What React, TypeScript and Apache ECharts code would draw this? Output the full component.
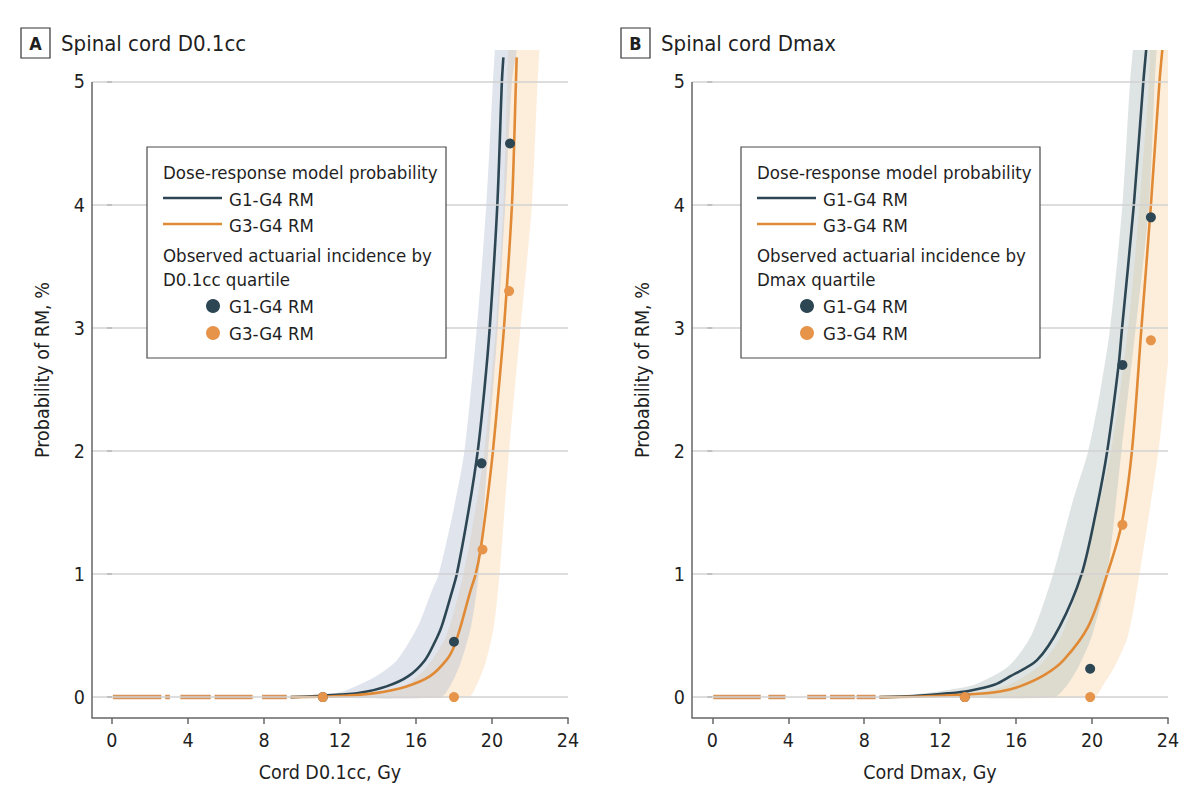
import React, { useEffect, useRef } from "react";
import * as echarts from "echarts";

const FONT = '"Liberation Sans Narrow", "DejaVu Sans Condensed", "Open Sans", sans-serif';
const DARK = "#2d4654";
const ORANGE = "#e08a36";
const TEXT = "#1f1f1f";

const xTicks = [0, 4, 8, 12, 16, 20, 24];
const yTicks = [0, 1, 2, 3, 4, 5];
const Y_MIN = -0.17;
const Y_MAX = 5.26;
const Y_AXIS_TOP = 5;

// ---------- Panel A: Spinal cord D0.1cc ----------
const aPatientDoses: (number | string)[][] = [
  [0.05, 0], [2.6, 0], ["-", "-"], [2.8, 0], [3.05, 0], ["-", "-"], [3.6, 0], [5.2, 0], ["-", "-"],
  [5.4, 0], [7.4, 0], ["-", "-"], [7.9, 0], [9.2, 0],
];
const aG14Curve = [
  [9.4, 0], [11, 0.01], [12, 0.02], [12.9, 0.03], [14.45, 0.087], [15.6, 0.17], [16.47, 0.3],
  [17.0, 0.45], [17.35, 0.575], [17.88, 0.85], [18.15, 1.0], [18.75, 1.5], [19.25, 2.0],
  [19.6, 2.5], [19.88, 3.0], [20.28, 4.0], [20.52, 5.0], [20.6, 5.2],
];
const aG34Curve = [
  [9.4, 0], [11, 0.003], [12.2, 0.01], [13.75, 0.03], [15.5, 0.087], [16.74, 0.17], [17.6, 0.3],
  [18.0, 0.41], [18.35, 0.575], [18.84, 0.85], [19.14, 1.0], [19.4, 1.2], [19.75, 1.6],
  [20.05, 2.0], [20.35, 2.5], [20.63, 3.0], [21.05, 4.0], [21.26, 5.0], [21.3, 5.2],
];
const aG14Band = [
  [9.5, 0], [11.5, 0.02], [12.4, 0.06], [13.9, 0.17], [15.0, 0.3], [16.1, 0.575], [16.8, 0.85],
  [17.2, 1.0], [17.95, 1.5], [18.55, 2.0], [19.2, 3.0], [19.7, 4.0], [20.05, 5.0], [20.15, 5.26], [20.22, 5.45],
  [21.4, 5.45], [21.3, 5.26], [21.05, 5.0], [20.7, 4.0], [20.3, 3.0], [19.8, 2.0], [19.3, 1.0], [18.9, 0.575],
  [18.4, 0.3], [17.9, 0.12], [17.3, 0],
];
const aG34Band = [
  [10, 0], [12.5, 0.005], [13.8, 0.02], [15.5, 0.1], [16.6, 0.25], [17.6, 0.5], [18.5, 1.0],
  [19.1, 1.5], [19.6, 2.0], [20.2, 3.0], [20.6, 4.0], [20.8, 5.0], [20.85, 5.26], [20.9, 5.45],
  [22.6, 5.45], [22.5, 5.26], [22.4, 5.0], [22.1, 4.0], [21.5, 3.0], [20.9, 2.0], [20.4, 1.0], [20.1, 0.575],
  [19.7, 0.3], [19.2, 0.1], [18.75, 0],
];
const aG14Observed = [[11.1, 0], [18.0, 0.45], [19.45, 1.9], [20.95, 4.5]];
const aG34Observed = [[11.1, 0], [18.0, 0], [19.5, 1.2], [20.9, 3.3]];

// ---------- Panel B: Spinal cord Dmax ----------
const bPatientDoses: (number | string)[][] = [
  [0.05, 0], [2.55, 0], ["-", "-"], [2.95, 0], [3.85, 0], ["-", "-"], [5.0, 0], [6.0, 0], ["-", "-"],
  [6.2, 0], [7.5, 0], ["-", "-"], [7.6, 0], [8.6, 0],
];
const bG14Curve = [
  [8.8, 0], [10.6, 0.008], [12.4, 0.03], [13.5, 0.05], [14.85, 0.1], [15.7, 0.17], [17.1, 0.3],
  [18.3, 0.575], [19.45, 1.0], [20.2, 1.5], [20.8, 2.0], [21.4, 2.7], [21.58, 3.0],
  [22.2, 4.0], [22.7, 5.0], [22.85, 5.26],
];
const bG34Curve = [
  [8.8, 0], [11, 0.005], [13.8, 0.025], [15.15, 0.046], [16.2, 0.087], [17.5, 0.18], [18.5, 0.3],
  [19.8, 0.575], [20.8, 1.0], [21.55, 1.4], [22.1, 2.0], [22.6, 3.0], [23.1, 4.0], [23.55, 5.0],
  [23.7, 5.26],
];
const bG14Band = [
  [9.5, 0], [10.6, 0.02], [12.5, 0.06], [13.8, 0.1], [15.6, 0.25], [16.8, 0.5], [17.95, 1.0],
  [19.0, 1.6], [19.8, 2.0], [20.45, 2.5], [20.95, 3.0], [21.6, 4.0], [22.0, 5.0], [22.15, 5.26], [22.25, 5.45],
  [23.5, 5.45], [23.4, 5.26], [23.3, 5.0], [23.0, 4.0], [22.3, 3.0], [21.55, 2.0], [20.8, 1.0], [20.0, 0.5],
  [19.3, 0.25], [18.7, 0.1], [18.0, 0],
];
const bG34Band = [
  [11, 0], [13.5, 0.02], [15.6, 0.1], [17.2, 0.25], [18.4, 0.5], [19.45, 1.0], [21.0, 2.0],
  [21.9, 3.0], [22.5, 4.0], [23.0, 5.0], [23.05, 5.26], [23.1, 5.45],
  [24.7, 5.45], [24.6, 4.0], [24.3, 3.2], [23.85, 2.5], [23.5, 2.0], [22.5, 1.0], [21.9, 0.5], [21.2, 0.25],
  [20.6, 0.1], [20.1, 0],
];
const bG14Observed = [[13.3, 0], [19.9, 0.23], [21.6, 2.7], [23.1, 3.9]];
const bG34Observed = [[13.3, 0], [19.9, 0], [21.6, 1.4], [23.1, 2.9]];

const panelTitles = ["Spinal cord D0.1cc", "Spinal cord Dmax"];
const panelLetters = ["A", "B"];
const xNames = ["Cord D0.1cc, Gy", "Cord Dmax, Gy"];
const yName = "Probability of RM, %";
const quartileLabels = ["D0.1cc quartile", "Dmax quartile"];
const xMins = [-1.05, -1.07];

function bandSeries(idx: number, pts: number[][], fill: string) {
  return {
    type: "custom",
    xAxisIndex: idx,
    yAxisIndex: idx,
    silent: true,
    clip: true,
    z: 2,
    data: pts,
    encode: { x: 0, y: 1 },
    renderItem: (params: any, api: any) => {
      if (params.dataIndex !== 0) return null;
      const points = pts.map((p) => api.coord(p));
      return { type: "polygon", shape: { points, smooth: 0.25 }, style: { fill } };
    },
  };
}

function lineSeries(idx: number, data: any[], color: string, width: number, z: number, smooth: number) {
  return {
    type: "line",
    xAxisIndex: idx,
    yAxisIndex: idx,
    data,
    clip: true,
    showSymbol: false,
    symbol: "none",
    smooth,
    connectNulls: false,
    silent: true,
    z,
    lineStyle: { color, width },
  };
}

function dotSeries(idx: number, data: number[][], color: string, z: number) {
  return {
    type: "scatter",
    xAxisIndex: idx,
    yAxisIndex: idx,
    data,
    symbol: "circle",
    symbolSize: 10,
    clip: false,
    silent: true,
    z,
    itemStyle: { color, opacity: 1 },
  };
}

function gridLineSeries(idx: number) {
  const xMin = xMins[idx];
  return {
    type: "line",
    xAxisIndex: idx,
    yAxisIndex: idx,
    data: [],
    silent: true,
    clip: false,
    z: 1,
    markLine: {
      silent: true,
      symbol: ["none", "none"],
      label: { show: false },
      lineStyle: { color: "#d2d2d2", width: 1.5, type: "solid" },
      data: [
        ...yTicks.map((v) => ({ yAxis: v })),
        [
          { coord: [xMin, Y_MIN], lineStyle: { color: "#666666", width: 1.5 } },
          { coord: [xMin, Y_AXIS_TOP] },
        ],
      ],
    },
  };
}

function legendGraphics(dx: number, quartile: string) {
  const t = (x: number, y: number, text: string) => ({
    type: "text",
    x: x + dx,
    y,
    z: 101,
    style: { text, fill: TEXT, fontSize: 18.5, fontFamily: FONT, align: "left", verticalAlign: "middle" },
  });
  return [
    {
      type: "rect",
      z: 100,
      shape: { x: 147 + dx, y: 147, width: 299, height: 211 },
      style: { fill: "#ffffff", stroke: "#4a4a4a", lineWidth: 1.2 },
    },
    t(163, 172, "Dose-response model probability"),
    { type: "line", z: 101, shape: { x1: 163 + dx, y1: 198, x2: 222 + dx, y2: 198 }, style: { stroke: DARK, lineWidth: 2.5 } },
    t(229, 199, "G1-G4 RM"),
    { type: "line", z: 101, shape: { x1: 163 + dx, y1: 224, x2: 222 + dx, y2: 224 }, style: { stroke: ORANGE, lineWidth: 2.5 } },
    t(229, 225, "G3-G4 RM"),
    t(163, 255, "Observed actuarial incidence by"),
    t(163, 279, quartile),
    { type: "circle", z: 101, shape: { cx: 213 + dx, cy: 306, r: 7 }, style: { fill: DARK } },
    t(229, 306, "G1-G4 RM"),
    { type: "circle", z: 101, shape: { cx: 213 + dx, cy: 333, r: 7 }, style: { fill: "#e6944a" } },
    t(229, 333, "G3-G4 RM"),
  ];
}

function titleGraphics(dx: number, letter: string, title: string) {
  return [
    { type: "rect", shape: { x: 21 + dx, y: 28, width: 29, height: 30 }, style: { fill: "#fff", stroke: "#333", lineWidth: 1.2 } },
    {
      type: "text",
      x: 35.5 + dx,
      y: 43,
      style: { text: letter, fill: TEXT, fontSize: 18, fontWeight: "bold", fontFamily: FONT, align: "center", verticalAlign: "middle" },
    },
    {
      type: "text",
      x: 61 + dx,
      y: 43,
      style: { text: title, fill: TEXT, fontSize: 22, fontFamily: FONT, align: "left", verticalAlign: "middle" },
    },
    {
      type: "text",
      x: 42 + dx,
      y: 370,
      rotation: Math.PI / 2,
      style: { text: yName, fill: TEXT, fontSize: 19.5, fontFamily: FONT, align: "center", verticalAlign: "middle" },
    },
  ];
}

const axisLineStyle = { color: "#666666", width: 1.5 };

function xAxisFor(idx: number) {
  return {
    type: "value",
    gridIndex: idx,
    min: xMins[idx],
    max: 24,
    name: xNames[idx],
    nameLocation: "middle",
    nameGap: 44,
    nameTextStyle: { fontSize: 19.5, color: TEXT, fontFamily: FONT },
    axisLine: { show: true, onZero: false, lineStyle: axisLineStyle },
    axisTick: { show: true, length: 6, customValues: xTicks, lineStyle: axisLineStyle },
    axisLabel: { customValues: xTicks, fontSize: 19.5, color: TEXT, fontFamily: FONT, margin: 12 },
    splitLine: { show: false },
  };
}

function yAxisFor(idx: number) {
  return {
    type: "value",
    gridIndex: idx,
    min: Y_MIN,
    max: Y_MAX,
    axisLine: { show: false },
    axisTick: { show: true, length: 5, customValues: yTicks, lineStyle: axisLineStyle },
    axisLabel: { customValues: yTicks, fontSize: 19.5, color: TEXT, fontFamily: FONT, margin: 7 },
    splitLine: { show: false },
  };
}

function panelSeries(
  idx: number,
  patients: any[],
  g14: number[][],
  g34: number[][],
  band14: number[][],
  band34: number[][],
  obs14: number[][],
  obs34: number[][],
  greyFill: string
) {
  return [
    gridLineSeries(idx),
    bandSeries(idx, band34, "rgba(246, 192, 124, 0.27)"),
    bandSeries(idx, band14, greyFill),
    lineSeries(idx, g14, DARK, 2.6, 3, 0.3),
    lineSeries(idx, g34, ORANGE, 2.6, 4, 0.3),
    lineSeries(idx, patients, "#d8955a", 4.5, 4, 0),
    dotSeries(idx, obs14, DARK, 5),
    dotSeries(idx, obs34, "#e6944a", 6),
  ];
}

export default function App() {
  const ref = useRef<HTMLDivElement>(null);
  useEffect(() => {
    document.body.style.margin = "0";
    if (!ref.current) return;
    const chart = echarts.init(ref.current, undefined, { renderer: "svg" });
    chart.setOption({
      animation: false,
      backgroundColor: "#ffffff",
      textStyle: { fontFamily: FONT },
      grid: [
        { left: 92, top: 50, width: 476, height: 668 },
        { left: 692, top: 50, width: 476, height: 668 },
      ],
      xAxis: [xAxisFor(0), xAxisFor(1)],
      yAxis: [yAxisFor(0), yAxisFor(1)],
      series: [
        ...panelSeries(0, aPatientDoses, aG14Curve, aG34Curve, aG14Band, aG34Band, aG14Observed, aG34Observed, "rgba(175, 187, 210, 0.40)"),
        ...panelSeries(1, bPatientDoses, bG14Curve, bG34Curve, bG14Band, bG34Band, bG14Observed, bG34Observed, "rgba(172, 188, 184, 0.40)"),
      ],
      graphic: [
        ...titleGraphics(0, panelLetters[0], panelTitles[0]),
        ...titleGraphics(600, panelLetters[1], panelTitles[1]),
        ...legendGraphics(0, quartileLabels[0]),
        ...legendGraphics(594, quartileLabels[1]),
      ],
    });
    return () => chart.dispose();
  }, []);
  return <div ref={ref} style={{ width: 1200, height: 808 }} />;
}
